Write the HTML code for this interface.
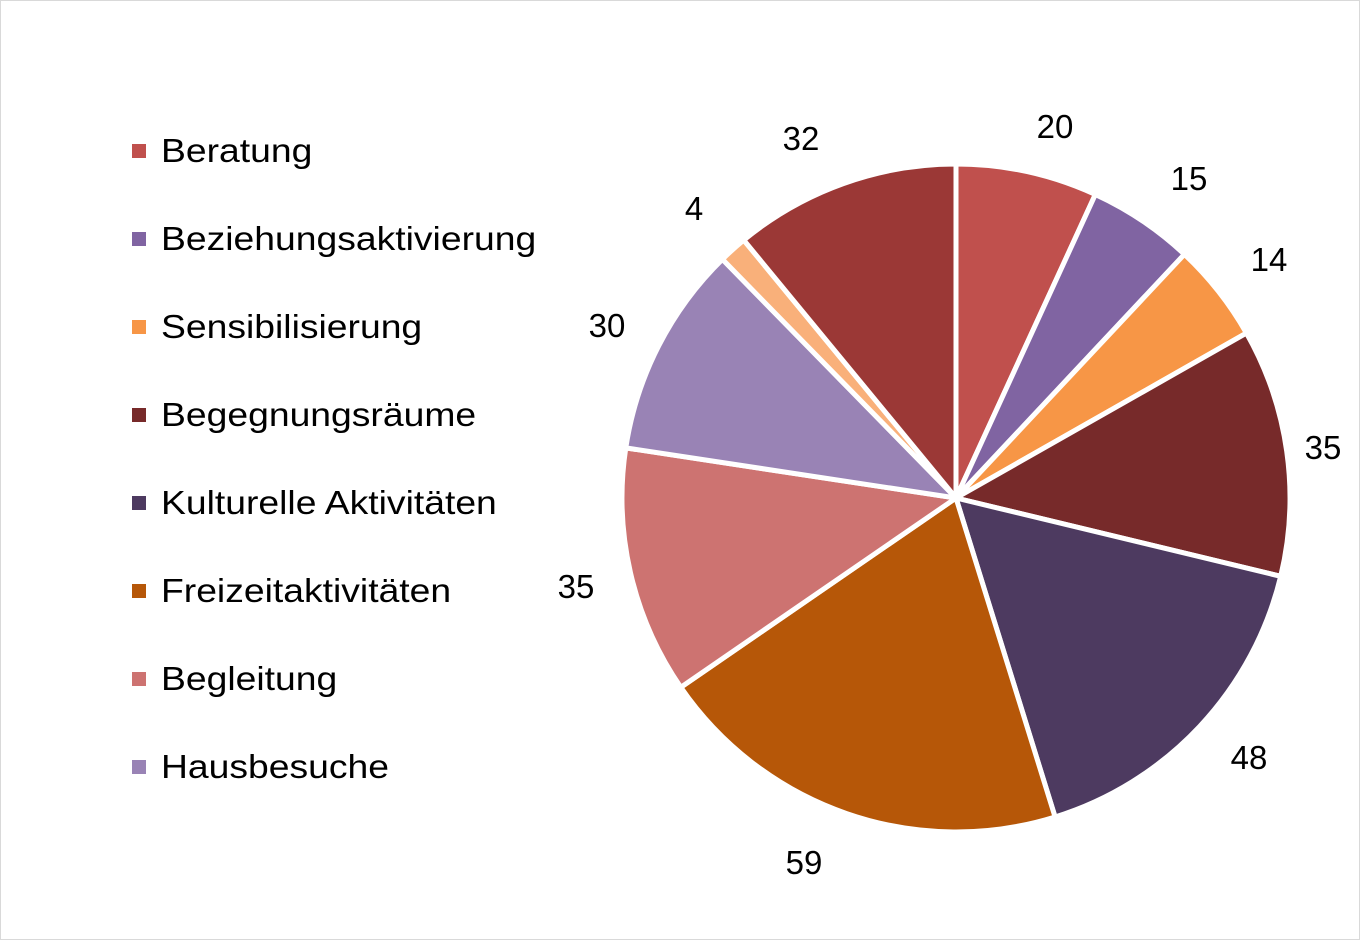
<!DOCTYPE html>
<html><head><meta charset="utf-8"><style>
html,body{margin:0;padding:0;background:#fff;}
#c{position:relative;width:1358px;height:938px;border:1px solid #d9d9d9;overflow:hidden;font-family:"Liberation Sans",sans-serif;}
.lg{position:absolute;left:131px;font-size:33px;color:#000;line-height:40px;}
.lg i{position:absolute;left:0;top:13px;width:14px;height:14px;}
.lg span{position:absolute;left:29px;white-space:nowrap;top:0;transform:scaleX(1.13);transform-origin:0 0;}
.v{position:absolute;font-size:33px;color:#000;transform:translate(-50%,-50%);}
</style></head><body><div id="c">
<svg id="s" width="1358" height="938" style="position:absolute;left:0;top:0"></svg>
<div class="lg" style="top:130px"><i style="background:#C0504D"></i><span>Beratung</span></div>
<div class="lg" style="top:218px"><i style="background:#8064A2"></i><span>Beziehungsaktivierung</span></div>
<div class="lg" style="top:306px"><i style="background:#F79646"></i><span>Sensibilisierung</span></div>
<div class="lg" style="top:394px"><i style="background:#772A2A"></i><span>Begegnungsräume</span></div>
<div class="lg" style="top:482px"><i style="background:#4D3A60"></i><span>Kulturelle Aktivitäten</span></div>
<div class="lg" style="top:570px"><i style="background:#B65708"></i><span>Freizeitaktivitäten</span></div>
<div class="lg" style="top:658px"><i style="background:#CD7371"></i><span>Begleitung</span></div>
<div class="lg" style="top:746px"><i style="background:#9983B5"></i><span>Hausbesuche</span></div>
<div class="v" style="left:1054px;top:126px">20</div>
<div class="v" style="left:1188px;top:178px">15</div>
<div class="v" style="left:1268px;top:259px">14</div>
<div class="v" style="left:1322px;top:447px">35</div>
<div class="v" style="left:1248px;top:757px">48</div>
<div class="v" style="left:803px;top:862px">59</div>
<div class="v" style="left:575px;top:586px">35</div>
<div class="v" style="left:606px;top:325px">30</div>
<div class="v" style="left:693px;top:208px">4</div>
<div class="v" style="left:800px;top:138px">32</div>
</div>
<script>
var vals=[20,15,14,35,48,59,35,30,4,32];
var cols=["#C0504D","#8064A2","#F79646","#772A2A","#4D3A60","#B65708","#CD7371","#9983B5","#F9B07A","#9B3836"];
var cx=955,cy=497,r=334,t=0,tot=292,h="";
for(var i=0;i<vals.length;i++){
 var a0=t/tot*2*Math.PI,a1=(t+vals[i])/tot*2*Math.PI;t+=vals[i];
 var x0=cx+r*Math.sin(a0),y0=cy-r*Math.cos(a0),x1=cx+r*Math.sin(a1),y1=cy-r*Math.cos(a1);
 var lg=(a1-a0)>Math.PI?1:0;
 h+='<path d="M'+cx+','+cy+' L'+x0+','+y0+' A'+r+','+r+' 0 '+lg+' 1 '+x1+','+y1+' Z" fill="'+cols[i]+'" stroke="#fff" stroke-width="5" stroke-linejoin="round"/>';
}
document.getElementById("s").innerHTML=h;
</script>
</body></html>
